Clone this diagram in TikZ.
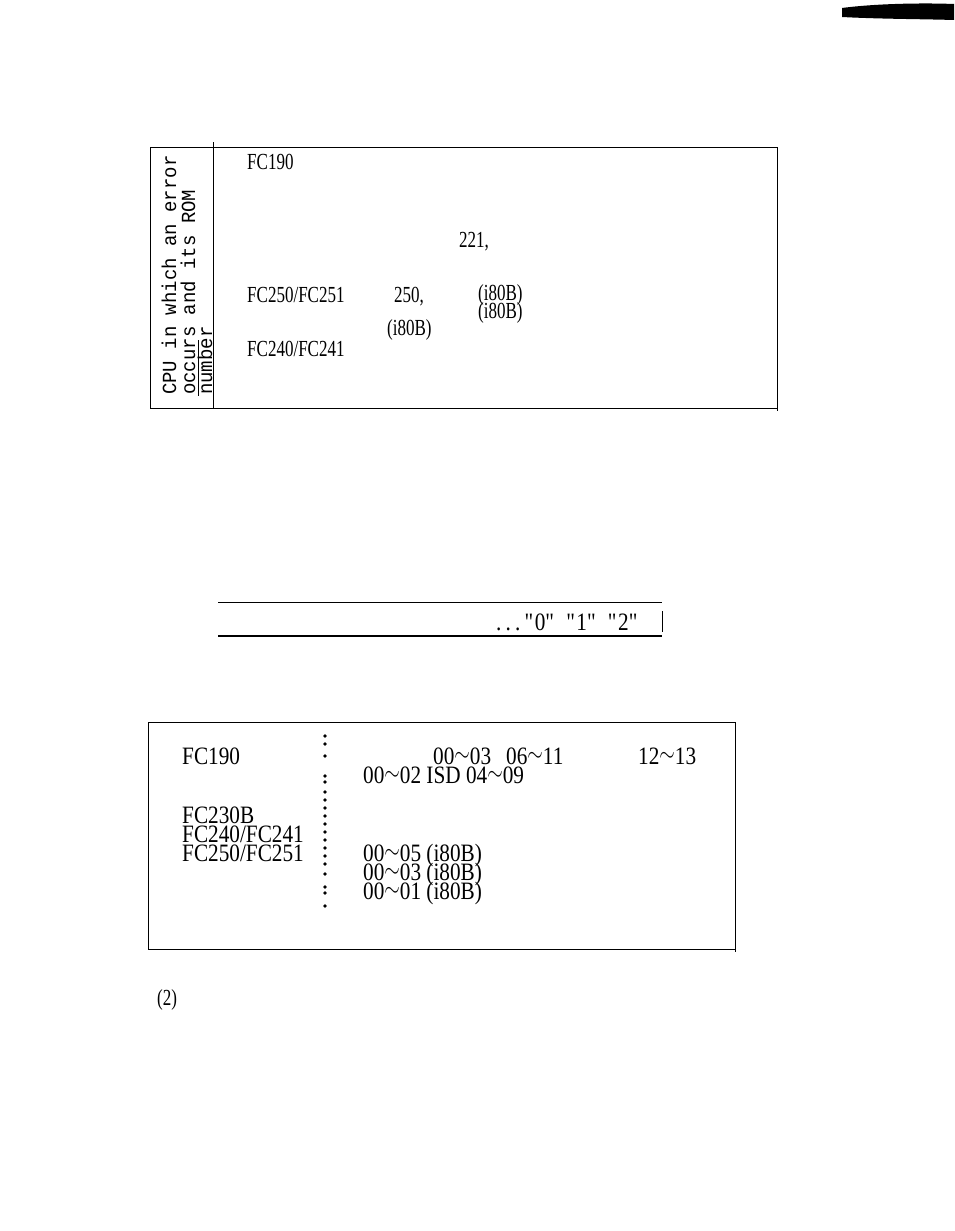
\documentclass[tikz,border=0pt]{standalone}
\usepackage{fontspec}
\setmainfont[FakeStretch=0.74]{Liberation Serif}
\newfontfamily\widefont[FakeStretch=0.85]{Liberation Serif}
\newfontfamily\rotfont[FakeStretch=0.95]{Liberation Mono}
\newcommand{\tl}{\raisebox{0.1em}{\scalebox{0.8}[1]{$\sim$}}}
\newcommand{\qd}{\textquotedbl}
\begin{document}
\begin{tikzpicture}[x=1pt,y=-1pt,
  t/.style={anchor=base west,inner sep=0,font=\fontsize{23}{23}\selectfont},
  tb/.style={anchor=base west,inner sep=0,font=\widefont\fontsize{25}{25}\selectfont},
  rl/.style={anchor=base west,inner sep=0,rotate=90,font=\rotfont\fontsize{20}{20}\selectfont},
  rule/.style={line width=1pt},
  dt/.style={circle,fill,inner sep=0,minimum size=3.8pt}]
\useasboundingbox (0,0) rectangle (954,1231);
\fill (842,8) .. controls (880,3) and (930,3) .. (954,4) -- (954,20) .. controls (920,19) and (880,19) .. (842,17) -- cycle;
% box 1
\draw[rule] (150,147) -- (777,147);
\draw[rule] (150,408) -- (777,408);
\draw[rule] (150,147) -- (150,408);
\draw[rule] (213,142) -- (213,408);
\draw[rule] (777,147) -- (777,411);
\draw[rule] (198,340) -- (198,396);
\node[rl] (r1) at (176,395) {CPU in which an error};
\node[rl] (r2) at (195,395) {occurs and its ROM};
\node[rl] (r3) at (212,395) {number};
\node[t] (a1) at (247,169) {FC190};
\node[t] (a2) at (459,247) {221,};
\node[t] (a3) at (247,302) {FC250/FC251};
\node[t] (a4) at (394,302) {250,};
\node[t] (a5) at (478,300) {(i80B)};
\node[t] (a6) at (478,318) {(i80B)};
\node[t] (a7) at (387,335) {(i80B)};
\node[t] (a8) at (247,356) {FC240/FC241};
% middle
\draw[rule] (218,602) -- (662,602);
\draw[line width=1.6pt] (218,636) -- (662,636);
\draw[rule] (662,611) -- (662,632);
\node[tb] (m1) at (496,630) {.\,.\,.\,\qd 0\qd\ \ \qd 1\qd\ \ \qd 2\qd};
% box 2
\draw[rule] (148,722) -- (735,722);
\draw[rule] (148,949) -- (735,949);
\draw[rule] (148,722) -- (148,949);
\draw[rule] (735,722) -- (735,952);
\foreach \yy in {736,744,756,776,782,792,800,808,816,824,832,840,848,856,864,874,887,893,906}
  \node[dt] at (325,\yy) {};
\node[tb] (b1) at (182,764) {FC190};
\node[tb] (b2) at (433,764) {00\tl 03};
\node[tb] (b3) at (506,764) {06\tl 11};
\node[tb] (b4) at (638,764) {12\tl 13};
\node[tb] (b5) at (363,783) {00\tl 02 ISD 04\tl 09};
\node[tb] (b6) at (182,823) {FC230B};
\node[tb] (b7) at (182,842) {FC240/FC241};
\node[tb] (b8) at (182,861) {FC250/FC251};
\node[tb] (b9) at (363,861) {00\tl 05 (i80B)};
\node[tb] (b10) at (363,880) {00\tl 03 (i80B)};
\node[tb] (b11) at (363,899) {00\tl 01 (i80B)};
\node[t] (c1) at (157,1005) {(2)};
\end{tikzpicture}
\end{document}
